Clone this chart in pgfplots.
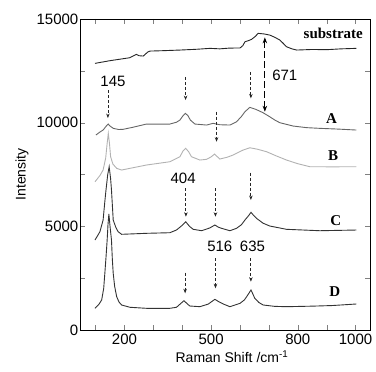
\documentclass[border=0pt]{standalone}
\usepackage{fontspec}
\setmainfont{Liberation Serif}
\setsansfont{Liberation Sans}
\usepackage{pgfplots}
\pgfplotsset{compat=1.18}
\usetikzlibrary{arrows.meta}
\begin{document}
\begin{tikzpicture}
\path[use as bounding box] (-80pt,-42pt) rectangle (296pt,330pt);
\begin{axis}[
  at={(0,0)}, anchor=south west,
  scale only axis, width=290pt, height=311pt,
  xmin=46, xmax=1050, ymin=0, ymax=15000,
  xtick={200,500,800,1000}, minor xtick={100,300,400,600,700,900},
  ytick={0,5000,10000,15000}, minor ytick={2500,7500,12500},
  tick align=inside, major tick length=5pt, minor tick length=5pt,
  scaled y ticks=false, scaled x ticks=false,
  /pgf/number format/1000 sep={},
  /pgf/number format/assume math mode=true,
  ticklabel style={font=\sffamily\fontsize{15}{18}\selectfont},
  yticklabel style={inner xsep=1.5pt},
  label style={font=\sffamily\fontsize{14}{17}\selectfont},
  xlabel={Raman Shift /cm\textsuperscript{-1}},
  ylabel={Intensity},
  xlabel style={at={(axis description cs:0.524,-0.087)}, anchor=center},
  ylabel style={at={(axis description cs:-0.2,0.5)}, anchor=center},
  every axis plot/.append style={line width=0.9pt, mark=none},
  clip=false,
]
% substrate
\addplot[color=black!85] coordinates {
(98,12860)(150,12990)(218,13131)(241,13294)(250,13230)(265,13212)(280,13400)(288,13453)(330,13470)(392,13502)(450,13540)(496,13584)(530,13560)(565,13598)(600,13600)(610,13720)(617,13902)(630,13960)(640,14018)(652,14150)(663,14307)(683,14280)(703,14225)(720,14120)(738,13984)(750,13820)(761,13661)(780,13560)(796,13502)(850,13530)(900,13520)(950,13560)(1003,13584)};
% A
\addplot[color=black!60] coordinates {
(101,9403)(115,9550)(126,9644)(136,9820)(143.6,9933)(150,9840)(161,9726)(180,9670)(195,9678)(230,9780)(276,9933)(320,9930)(357,9933)(380,10020)(392,10126)(403,10340)(411,10449)(420,10330)(428,10126)(444,9933)(484,9885)(507,9967)(530,9900)(565,9885)(588,10044)(605,10300)(617,10527)(634,10739)(655,10640)(680,10478)(703,10285)(720,10130)(738,9996)(784,9837)(830,9760)(876,9726)(940,9690)(1003,9644)};
% B
\addplot[color=black!30] coordinates {
(98,7151)(115,7450)(126,7715)(135,8300)(140,9000)(144,9485)(148,9000)(152,8357)(160,8000)(173,7797)(190,7715)(219,7797)(276,7957)(357,8115)(392,8357)(402,8620)(412,8762)(422,8600)(432,8357)(461,8197)(484,8231)(500,8350)(512,8487)(522,8350)(530,8246)(555,8330)(576,8439)(611,8680)(634,8790)(660,8720)(692,8598)(725,8400)(761,8197)(800,8020)(842,7874)(920,7870)(1003,7874)};
% C
\addplot[color=black!80] coordinates {
(98,4340)(115,4740)(126,5304)(132,6200)(136,6751)(142,7500)(147,7874)(152,7300)(155,6751)(161,5304)(170,4950)(178,4740)(190,4615)(276,4663)(357,4692)(380,4822)(400,5050)(412,5222)(425,5000)(438,4856)(467,4788)(495,4920)(513,5063)(525,4960)(536,4904)(565,4788)(588,4904)(605,5080)(617,5304)(630,5520)(638,5675)(647,5530)(657,5386)(680,5150)(703,5015)(761,4856)(876,4788)(1003,4822)};
% D
\addplot[color=black!80] coordinates {
(98,1046)(112,1250)(121,1447)(128,2000)(132,2734)(136,3500)(140,4340)(143,5100)(146,5594)(150,5000)(155,4340)(158,3400)(161,2734)(166,2100)(173,1606)(181,1350)(190,1206)(219,1095)(276,1046)(357,1046)(380,1095)(395,1280)(406,1413)(416,1280)(426,1157)(461,1124)(490,1250)(513,1480)(527,1360)(542,1254)(565,1124)(600,1287)(615,1450)(623,1606)(638,1929)(645,1720)(651,1529)(665,1330)(680,1206)(720,1140)(761,1124)(850,1150)(920,1180)(1003,1254)};
% arrows
\tikzset{arr/.style={black!85, line width=0.8pt, dash pattern=on 3pt off 2pt, -{Stealth[length=4.5pt,width=3.5pt]}}}
\draw[arr] (axis cs:142.6,11573) -- (axis cs:142.6,10223);
\draw[arr] (axis cs:411.5,12214) -- (axis cs:411.5,11091);
\draw[arr] (axis cs:637.6,12455) -- (axis cs:637.6,11172);
\draw[arr] (axis cs:518.8,10527) -- (axis cs:518.8,9080);
\draw[arr] (axis cs:412.6,6833) -- (axis cs:412.6,5463);
\draw[arr] (axis cs:515,6847) -- (axis cs:515,5463);
\draw[arr] (axis cs:637.6,7585) -- (axis cs:637.6,6269);
\draw[arr] (axis cs:410,2763) -- (axis cs:410,1770);
\draw[arr] (axis cs:515,3457) -- (axis cs:515,2011);
\draw[arr] (axis cs:637.6,3457) -- (axis cs:637.6,2329);
\draw[black, line width=0.9pt, dash pattern=on 7pt off 3pt, {Stealth[length=6pt,width=4.5pt]}-{Stealth[length=6pt,width=4.5pt]}] (axis cs:686,14114) -- (axis cs:686,10527);
% numbers
\tikzset{num/.style={font=\sffamily\fontsize{15}{18}\selectfont, inner sep=0pt}}
\node[num] at (axis cs:160,11973) {145};
\node[num] at (axis cs:403,7315) {404};
\node[num] at (axis cs:530,4050) {516};
\node[num] at (axis cs:643,4050) {635};
\node[num] at (axis cs:755,12262) {671};
% series labels
\tikzset{lab/.style={font=\bfseries\fontsize{15}{18}\selectfont, inner sep=0pt}}
\node[lab] at (axis cs:923,14307) {substrate};
\node[lab] at (axis cs:917,10208) {A};
\node[lab] at (axis cs:922,8390) {B};
\node[lab] at (axis cs:932,5270) {C};
\node[lab] at (axis cs:928,1847) {D};
\end{axis}
\end{tikzpicture}
\end{document}
